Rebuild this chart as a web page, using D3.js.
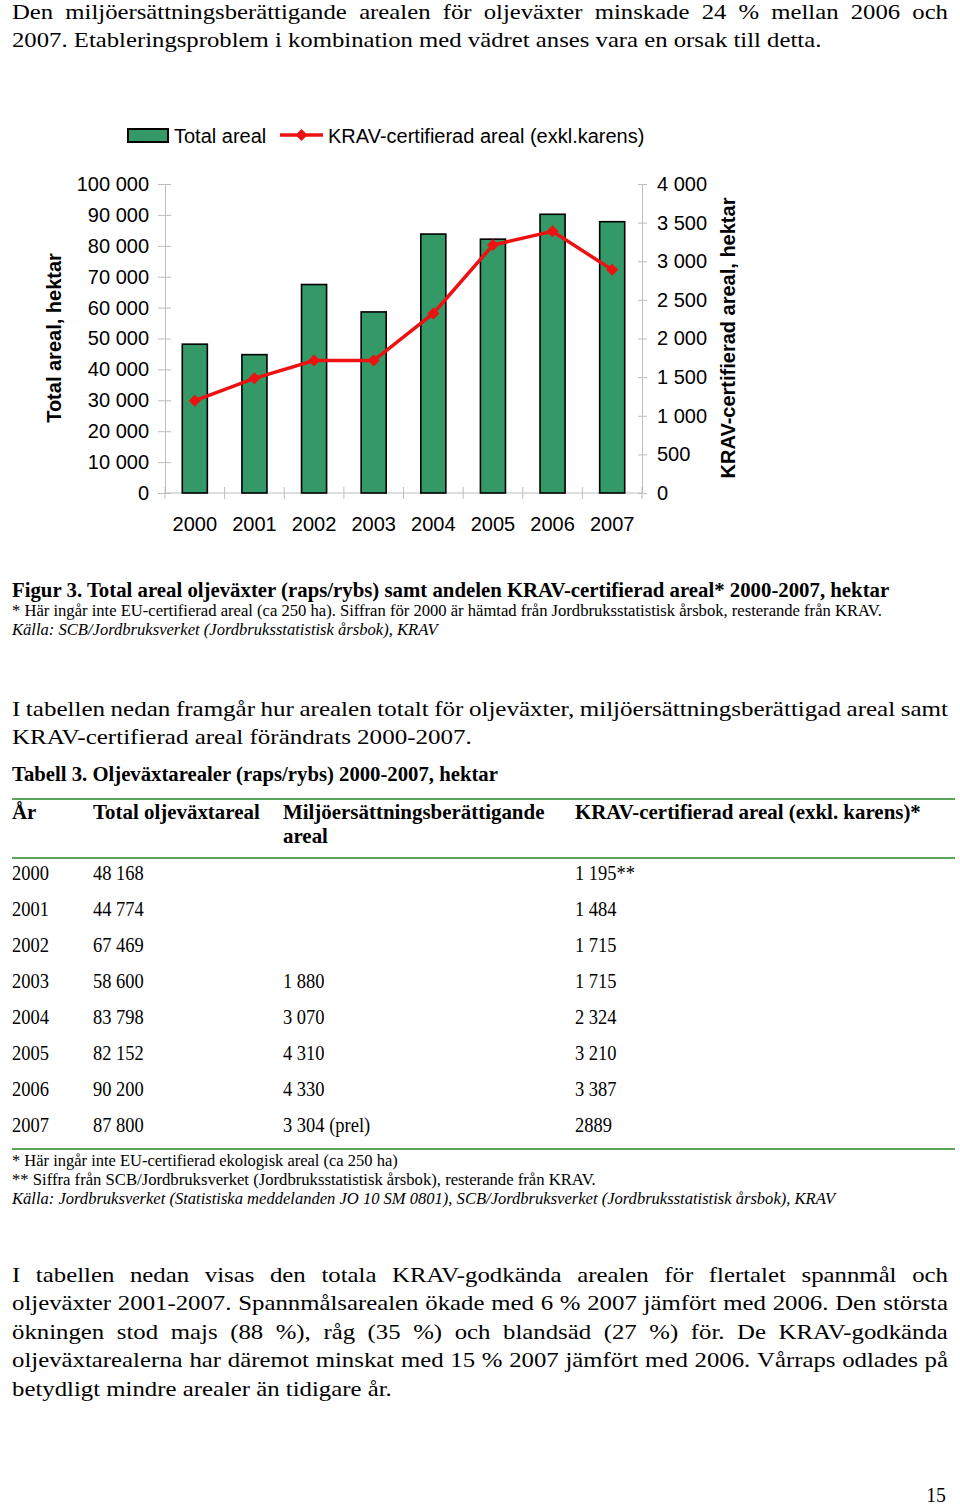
<!DOCTYPE html>
<html><head><meta charset="utf-8">
<script src="https://cdn.jsdelivr.net/npm/d3@7"></script>
<style>html,body{margin:0;padding:0;background:#fff}</style>
</head><body>
<script>
// ---------- DATA ----------
const years = ["2000","2001","2002","2003","2004","2005","2006","2007"];
const totalAreal = [48168, 44774, 67469, 58600, 83798, 82152, 90200, 87800];
const kravAreal = [1195, 1484, 1715, 1715, 2324, 3210, 3387, 2889];
const miljoTable = ["", "", "", "1 880", "3 070", "4 310", "4 330", "3 304 (prel)"];
const kravTable = ["1 195**", "1 484", "1 715", "1 715", "2 324", "3 210", "3 387", "2889"];
const leftTicks = [0, 10000, 20000, 30000, 40000, 50000, 60000, 70000, 80000, 90000, 100000];
const rightTicks = [0, 500, 1000, 1500, 2000, 2500, 3000, 3500, 4000];
const legendLabels = ["Total areal", "KRAV-certifierad areal (exkl.karens)"];
const axisTitles = ["Total areal, hektar", "KRAV-certifierad areal, hektar"];
const tableHeaders = ["År", "Total oljeväxtareal", "Miljöersättningsberättigande", "KRAV-certifierad areal (exkl. karens)*"];

const W = 960, H = 1506;
const SERIF = "'Liberation Serif','Times New Roman',serif";
const SANS = "'Liberation Sans',Arial,sans-serif";
const GREEN = "#339966", RED = "#ee1111", RULE = "#5ca35c", AXIS = "#bdbdbd";

const svg = d3.select("body").append("svg").attr("width", W).attr("height", H)
  .style("display","block");
svg.append("rect").attr("width", W).attr("height", H).attr("fill", "#fff");

const fmt = d3.formatLocale({decimal: ",", thousands: " ", grouping: [3], currency: ["", ""]}).format(",d");

// ---------- TEXT HELPERS ----------
function measure(str, size, weight = "normal", style = "normal", family = SERIF) {
  const t = svg.append("text").attr("font-family", family).attr("font-size", size)
    .attr("font-weight", weight).attr("font-style", style).text(str);
  const w = t.node().getComputedTextLength(); t.remove(); return w;
}
function txt(str, x, y, size, sx, weight = "normal", style = "normal", anchor = "start") {
  return svg.append("text").attr("transform", `translate(${x},${y}) scale(${sx},1)`)
    .attr("font-family", SERIF).attr("font-size", size).attr("font-weight", weight)
    .attr("font-style", style).attr("text-anchor", anchor).attr("fill", "#000").text(str);
}
function fit(str, x, y, width, size, weight = "normal", style = "normal") {
  const sx = width / measure(str, size, weight, style);
  txt(str, x, y, size, sx, weight, style);
  return sx;
}
function justify(str, x, y, width, size, sx) {
  const words = str.split(" ");
  const ws = words.map(w => measure(w, size) * sx);
  const gap = (width - d3.sum(ws)) / (words.length - 1);
  let cx = x;
  words.forEach((w, i) => { txt(w, cx, y, size, sx); cx += ws[i] + gap; });
}

const PSIZE = 22;
// ---------- PARAGRAPH 1 ----------
{
  const last = "2007. Etableringsproblem i kombination med vädret anses vara en orsak till detta.";
  const sx = fit(last, 12, 47, 810, PSIZE);
  justify("Den miljöersättningsberättigande arealen för oljeväxter minskade 24 % mellan 2006 och", 12, 19, 936, PSIZE, sx);
}

// ---------- CHART ----------
const x = d3.scaleBand().domain(years).range([165, 642]).padding(0);
const yL = d3.scaleLinear().domain([0, 100000]).range([493, 184]);
const yR = d3.scaleLinear().domain([0, 4000]).range([493, 184]);
const barW = x.bandwidth() * 0.42;
const chart = svg.append("g").attr("font-family", SANS);

const axL = chart.append("g").attr("transform", "translate(165,0)")
  .call(d3.axisLeft(yL).tickValues(leftTicks).tickFormat(fmt).tickSize(7).tickSizeOuter(0).tickPadding(9));
const axR = chart.append("g").attr("transform", "translate(642,0)")
  .call(d3.axisRight(yR).tickValues(rightTicks).tickFormat(fmt).tickSize(5).tickSizeOuter(0).tickPadding(10));
[axL, axR].forEach(a => {
  a.select(".domain").attr("stroke", AXIS);
  a.selectAll(".tick line").attr("stroke", AXIS);
  a.selectAll(".tick text").attr("font-family", SANS).attr("font-size", 20).attr("fill", "#000");
});
axL.selectAll(".tick line").attr("x1", 6);
axR.selectAll(".tick line").attr("x1", -4);

const xb = chart.append("g");
xb.append("line").attr("x1", 165).attr("x2", 642).attr("y1", 493).attr("y2", 493).attr("stroke", AXIS);
const bounds = years.map(d => x(d)).concat([x.range()[1]]);
xb.selectAll("line.t").data(bounds).join("line").attr("class", "t")
  .attr("x1", d => d).attr("x2", d => d).attr("y1", 487).attr("y2", 499).attr("stroke", AXIS);
xb.selectAll("text").data(years).join("text")
  .attr("x", d => x(d) + x.bandwidth() / 2).attr("y", 531)
  .attr("text-anchor", "middle").attr("font-size", 20).attr("fill", "#000").text(d => d);

chart.selectAll("rect.bar").data(years).join("rect").attr("class", "bar")
  .attr("x", d => x(d) + (x.bandwidth() - barW) / 2)
  .attr("width", barW)
  .attr("y", (d, i) => yL(totalAreal[i]))
  .attr("height", (d, i) => yL(0) - yL(totalAreal[i]))
  .attr("fill", GREEN).attr("stroke", "#000").attr("stroke-width", 1.6);

const cx = d => x(d) + x.bandwidth() / 2;
chart.append("path").datum(years)
  .attr("d", d3.line().x(d => cx(d)).y((d, i) => yR(kravAreal[i])))
  .attr("fill", "none").attr("stroke", RED).attr("stroke-width", 3.5);
chart.selectAll("path.mk").data(years).join("path").attr("class", "mk")
  .attr("d", d3.symbol(d3.symbolSquare, 72))
  .attr("transform", (d, i) => `translate(${cx(d)},${yR(kravAreal[i])}) rotate(45)`)
  .attr("fill", RED);

chart.append("text").attr("transform", "translate(54,338) rotate(-90)")
  .attr("text-anchor", "middle").attr("dominant-baseline", "central")
  .attr("font-size", 20).attr("font-weight", "bold").text(axisTitles[0]);
chart.append("text").attr("transform", "translate(728,338) rotate(-90)")
  .attr("text-anchor", "middle").attr("dominant-baseline", "central")
  .attr("font-size", 20).attr("font-weight", "bold").text(axisTitles[1]);

const lg = chart.append("g");
lg.append("rect").attr("x", 128).attr("y", 129).attr("width", 40).attr("height", 13)
  .attr("fill", GREEN).attr("stroke", "#000").attr("stroke-width", 2);
lg.append("text").attr("x", 174).attr("y", 143).attr("font-size", 20).text(legendLabels[0]);
lg.append("line").attr("x1", 280).attr("x2", 323).attr("y1", 135).attr("y2", 135)
  .attr("stroke", RED).attr("stroke-width", 3.5);
lg.append("path").attr("d", d3.symbol(d3.symbolSquare, 72)())
  .attr("transform", "translate(301.5,135) rotate(45)").attr("fill", RED);
lg.append("text").attr("x", 328).attr("y", 143).attr("font-size", 20).text(legendLabels[1]);

// ---------- CAPTION ----------
fit("Figur 3. Total areal oljeväxter (raps/rybs) samt andelen KRAV-certifierad areal* 2000-2007, hektar", 12, 597, 878, 20, "bold");
fit("* Här ingår inte EU-certifierad areal (ca 250 ha). Siffran för 2000 är hämtad från Jordbruksstatistisk årsbok, resterande från KRAV.", 12, 616, 870, 16);
fit("Källa: SCB/Jordbruksverket (Jordbruksstatistisk årsbok), KRAV", 12, 635, 426, 16, "normal", "italic");

// ---------- PARAGRAPH 2 ----------
{
  const sx = fit("KRAV-certifierad areal förändrats 2000-2007.", 12, 744, 460, PSIZE);
  justify("I tabellen nedan framgår hur arealen totalt för oljeväxter, miljöersättningsberättigad areal samt", 12, 716, 936, PSIZE, sx);
}
fit("Tabell 3. Oljeväxtarealer (raps/rybs) 2000-2007, hektar", 12, 781, 486, 20, "bold");

// ---------- TABLE ----------
[799, 858, 1149].forEach(yy => svg.append("line").attr("x1", 12).attr("x2", 955)
  .attr("y1", yy).attr("y2", yy).attr("stroke", RULE).attr("stroke-width", 2));
const colX = [12, 93, 283, 575];
{
  const sxh = 346 / measure(tableHeaders[3], 21, "bold");
  tableHeaders.forEach((h, i) => txt(h, colX[i], 819, 21, sxh, "bold"));
  txt("areal", colX[2], 843, 21, sxh, "bold");
  const sxb = 37 / measure("2000", 21);
  const rowY = d3.scaleBand().domain(years).range([856, 1144]);
  years.forEach((yr, i) => {
    const by = rowY(yr) + 24;
    txt(yr, colX[0], by, 21, sxb);
    txt(fmt(totalAreal[i]), colX[1], by, 21, sxb);
    if (miljoTable[i]) txt(miljoTable[i], colX[2], by, 21, sxb);
    txt(kravTable[i], colX[3], by, 21, sxb);
  });
}
fit("* Här ingår inte EU-certifierad ekologisk areal (ca 250 ha)", 12, 1166, 386, 16);
fit("** Siffra från SCB/Jordbruksverket (Jordbruksstatistisk årsbok), resterande från KRAV.", 12, 1185, 584, 16);
fit("Källa: Jordbruksverket (Statistiska meddelanden JO 10 SM 0801), SCB/Jordbruksverket (Jordbruksstatistisk årsbok), KRAV", 12, 1204, 824, 16, "normal", "italic");

// ---------- PARAGRAPH 3 ----------
{
  const sx = fit("betydligt mindre arealer än tidigare år.", 12, 1396, 380, PSIZE);
  const lines = [
    "I tabellen nedan visas den totala KRAV-godkända arealen för flertalet spannmål och",
    "oljeväxter 2001-2007. Spannmålsarealen ökade med 6 % 2007 jämfört med 2006. Den största",
    "ökningen stod majs (88 %), råg (35 %) och blandsäd (27 %) för. De KRAV-godkända",
    "oljeväxtarealerna har däremot minskat med 15 % 2007 jämfört med 2006. Vårraps odlades på"
  ];
  const bl = [1282, 1310, 1339, 1367];
  lines.forEach((l, i) => justify(l, 12, bl[i], 936, PSIZE, sx));
}
txt("15", 946, 1502, 22, 0.9, "normal", "normal", "end");
</script>
</body></html>
